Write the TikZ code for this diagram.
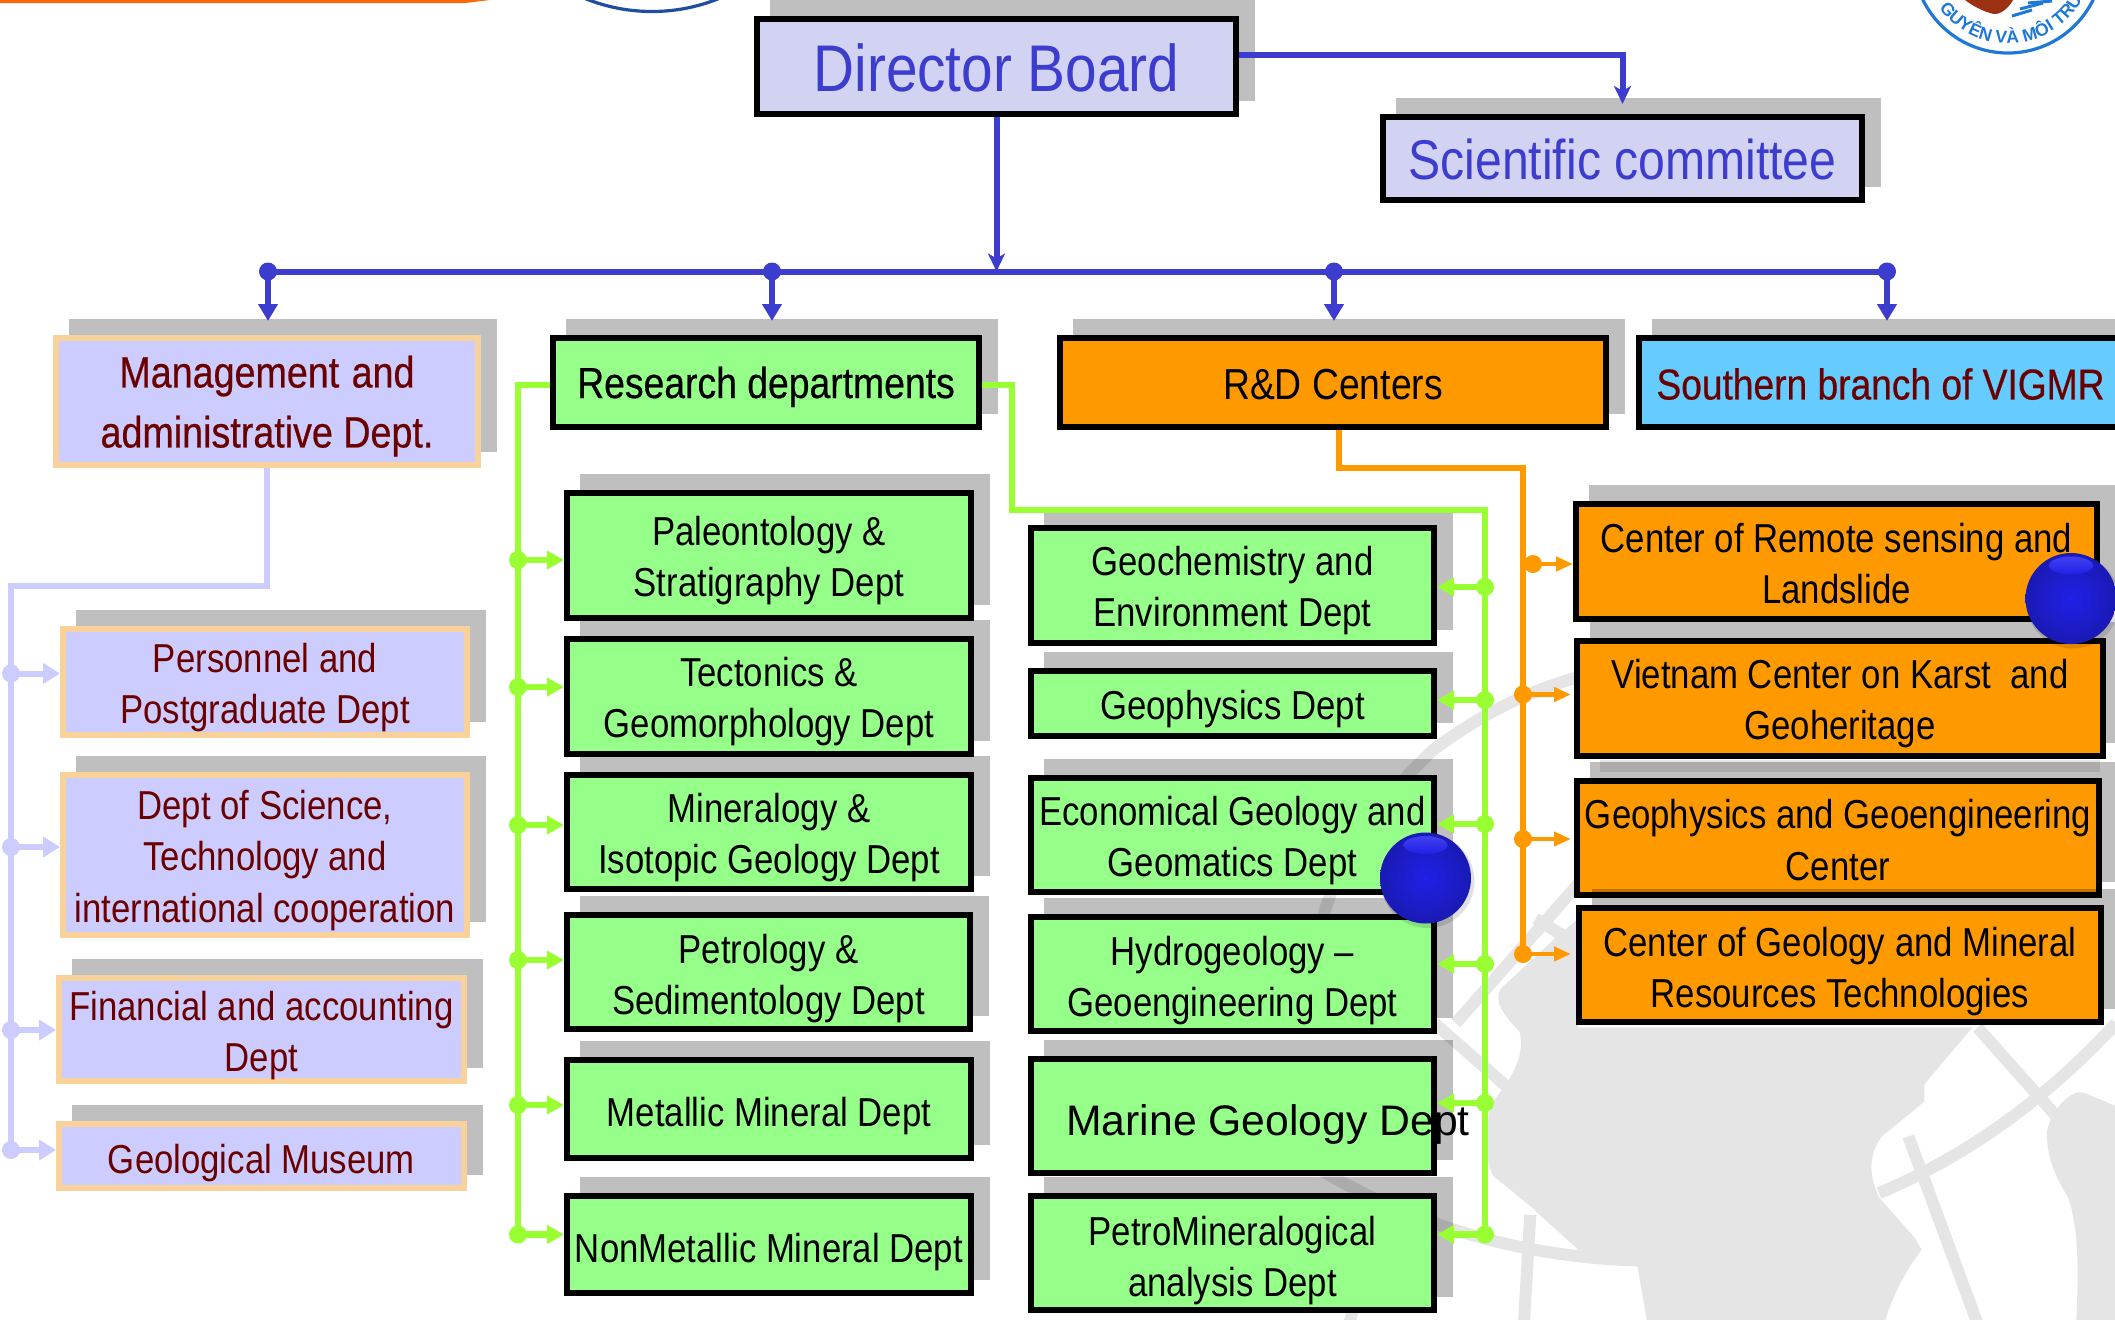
\documentclass[tikz,border=0pt]{standalone}
\usepackage{fontspec}
\usetikzlibrary{arrows.meta,decorations.text,calc}
\setmainfont{Liberation Sans}
\newfontfamily\cnd[FakeStretch=0.86]{Liberation Sans}
\newfontfamily\cndb[FakeStretch=0.86,FakeBold=0.5]{Liberation Sans}
\definecolor{lineB}{HTML}{3C3CCF}
\definecolor{lineG}{HTML}{99FF33}
\definecolor{lineO}{HTML}{FF9900}
\definecolor{lineL}{HTML}{CCCCFF}
\definecolor{boxG}{HTML}{96FF8A}
\definecolor{boxO}{HTML}{FF9900}
\definecolor{boxC}{HTML}{66CCFF}
\definecolor{boxD}{HTML}{D2D2F2}
\definecolor{edgeT}{HTML}{F8D29A}
\definecolor{txtR}{HTML}{6B0000}
\definecolor{mapG}{HTML}{E5E5E5}
\definecolor{logoB}{HTML}{1F78D8}
\definecolor{logoD}{HTML}{1F4E9E}
\definecolor{logoR}{HTML}{9C3213}
\definecolor{barO}{HTML}{FF6600}
\tikzset{
  x=0.5pt,y=-0.5pt,
  boxbase/.style={rectangle,inner sep=0pt,line width=3pt,align=center,draw=black},
  dirbox/.style={boxbase,fill=boxD,text=lineB},
  grbox/.style={boxbase,fill=boxG,text=black,font=\cnd\fontsize{20.2}{25.6}\selectfont},
  orbox/.style={boxbase,fill=boxO,text=black,font=\cnd\fontsize{20.2}{25.6}\selectfont},
  admbox/.style={boxbase,draw=edgeT,fill=lineL,text=txtR,font=\cnd\fontsize{20.2}{25.6}\selectfont},
  headg/.style={grbox,font=\cndb\fontsize{21.7}{25}\selectfont},
  heado/.style={orbox,font=\cnd\fontsize{21.7}{25}\selectfont},
  headc/.style={boxbase,fill=boxC,text=txtR,font=\cndb\fontsize{21.6}{25}\selectfont},
  headm/.style={admbox,font=\cndb\fontsize{21.9}{30}\selectfont},
  mainB/.style={draw=lineB,line width=3pt,-{Triangle[length=8.5pt,width=9.5pt]}},
  thinB/.style={draw=lineB,line width=3pt,-{Stealth[length=9pt,width=8.5pt,inset=2.5pt]}},
  busB/.style={draw=lineB,line width=3pt},
  wireG/.style={draw=lineG,line width=3.2pt},
  wireO/.style={draw=lineO,line width=3pt},
  wireL/.style={draw=lineL,line width=3pt},
  tipG/.style={wireG,-{Triangle[length=8.5pt,width=9pt]}},
  tipO/.style={draw=lineO,line width=2.4pt,-{Triangle[length=8.5pt,width=7pt]}},
  tipL/.style={wireL,-{Triangle[length=8.5pt,width=10pt]}},
  mapline/.style={draw=mapG,line width=6pt},
}
\def\tsh{20}
% name, x1, y1, x2, y2, style, text
\newcommand{\bx}[7]{%
  \fill[black,opacity=.25] (#2+16,#3-16) rectangle (#4+16,#5-16);
  \pgfmathsetmacro{\bw}{(#4-#2-6)*0.5}%
  \pgfmathsetmacro{\bh}{(#5-#3-6)*0.5}%
  \pgfmathsetmacro{\bcx}{(#2+#4)/2}%
  \pgfmathsetmacro{\bcy}{(#3+#5)/2}%
  \node[#6,minimum width=\bw pt,minimum height=\bh pt] (#1) at (\bcx,\bcy) {\rule{0pt}{\tsh pt}#7};
}
\newcommand{\dotat}[2]{\fill[#1] (#2) circle (4.5pt);}
\begin{document}
\begin{tikzpicture}
\useasboundingbox (0,0) rectangle (2115,1323);
\clip (0,0) rectangle (2115,1323);
\fill[white] (0,0) rectangle (2115,1323);
% top fragments
\fill[barO] (0,0) -- (490,0) -- (465,3) -- (0,3) -- cycle;
\draw[logoD,line width=1.6pt] (652,-166.5) circle (178);
% logo right
\draw[logoB,line width=1.6pt] (2008,-41.7) circle (94.7);
\fill[logoR] (1965,0) .. controls (1975,8) and (1990,14) .. (1995,14) .. controls (2002,14) and (2010,6) .. (2013,0) -- cycle;
\draw[logoB,line width=1.5pt] (2012,16) -- (2032,10);
\draw[logoB,line width=1.5pt] (2020,9) -- (2043,3);
\draw[logoB,line width=1.5pt] (2028,3) -- (2052,1);
\path[decorate,decoration={text along path,text align=center,
  text={|\color{logoB}\bfseries\fontsize{8.8}{11}\selectfont|GUYÊN VÀ MÔI TRƯ}}]
  (2008,-41.7) ++(175:85) arc[start angle=175,end angle=-3,radius=85];
% world map
\begin{scope}[shift={(1280,640)},xscale=0.5325,yscale=0.4355]
\clip (-700,-100) rectangle (1568,1560);
\fill[mapG] (450,900) .. controls (420,860) and (400,830) .. (415,800)
  -- (530,670) -- (560,640) -- (560,890) -- (1300,890)
  -- (1210,1020) -- (1210,1060) -- (1130,1140) .. controls (1100,1190) and (1110,1240) .. (1125,1280)
  -- (1190,1370) -- (1205,1400) .. controls (1180,1440) and (1150,1500) .. (1135,1570)
  -- (690,1570) -- (670,1430) -- (560,1400) -- (470,1300) -- (400,1230)
  .. controls (380,1180) and (385,1100) .. (400,1060) .. controls (440,1000) and (460,950) .. (450,900) -- cycle;
\fill[mapG] (1440,1130) .. controls (1450,1070) and (1490,1030) .. (1510,1040)
  -- (1570,1070) -- (1570,1570) -- (1495,1570) .. controls (1500,1450) and (1500,1350) .. (1480,1280)
  .. controls (1450,1220) and (1440,1180) .. (1440,1130) -- cycle;
\draw[mapline] (80,640) .. controls (110,500) and (200,350) .. (290,250) .. controls (380,170) and (460,120) .. (560,85);
\draw[mapline] (330,880) -- (560,560);
\draw[mapline] (290,880) -- (430,1030);
\draw[mapline] (-150,1000) .. controls (50,1250) and (350,1420) .. (690,1425);
\draw[mapline] (130,1570) -- (180,1350);
\draw[mapline] (458,1570) -- (470,1320);
\draw[mapline] (1180,1140) -- (1310,1570);
\draw[mapline] (1125,1270) .. controls (1300,1180) and (1450,1040) .. (1570,880);
\draw[mapline] (1310,890) -- (1470,1110);
\draw[mapline] (600,290) -- (1540,290);
\draw[mapline] (480,640) -- (560,700);
\draw[mapline] (700,1430) -- (710,1570);
\end{scope}
% boxes
\def\tsh{25}
\bx{dir}{754}{16}{1239}{117}{dirbox,font=\cnd\fontsize{33}{36}\selectfont}{Director Board}
\def\tsh{21.5}
\bx{sci}{1380}{114}{1865}{203}{dirbox,font=\cnd\fontsize{28}{30}\selectfont}{Scientific committee}
\def\tsh{20.5}
\bx{mgm}{53}{335}{481}{468}{headm}{Management\ \kern1pt and\\administrative Dept.}
\def\tsh{20}
\bx{res}{550}{335}{982}{430}{headg}{Research departments}
\def\tsh{17.2}
\bx{rnd}{1057}{335}{1609}{430}{heado}{R\&D Centers}
\bx{sth}{1636}{335}{2125}{430}{headc}{Southern branch of VIGMR}
\def\tsh{20}
\bx{pal}{564}{490}{974}{621}{grbox}{Paleontology \&\\Stratigraphy Dept}
\bx{tec}{564}{636}{974}{757}{grbox}{Tectonics \&\\Geomorphology Dept}
\bx{mnr}{564}{772}{974}{892}{grbox}{Mineralogy \&\\Isotopic Geology Dept}
\def\tsh{21}
\bx{pet}{564}{912}{973}{1032}{grbox}{Petrology \&\\Sedimentology Dept}
\def\tsh{22}
\bx{met}{564}{1057}{974}{1161}{grbox}{Metallic Mineral Dept}
\bx{non}{564}{1193}{974}{1296}{grbox}{NonMetallic Mineral Dept}
\def\tsh{20}
\bx{per}{60}{626}{470}{738}{admbox}{Personnel and\\Postgraduate Dept}
\bx{scn}{60}{772}{470}{938}{admbox}{Dept of Science,\\Technology and\\international cooperation}
\def\tsh{21}
\bx{fin}{56}{975}{467}{1084}{admbox}{Financial and accounting\\Dept}
\def\tsh{22}
\bx{mus}{56}{1121}{467}{1191}{admbox}{Geological Museum}
\def\tsh{20}
\bx{geo}{1028}{525}{1437}{646}{grbox}{Geochemistry and\\Environment Dept}
\bx{gph}{1028}{668}{1437}{739}{grbox}{Geophysics Dept}
\bx{eco}{1028}{775}{1437}{895}{grbox}{Economical Geology and\\Geomatics Dept}
\def\tsh{21}
\bx{hyd}{1028}{914}{1437}{1034}{grbox}{Hydrogeology –\\Geoengineering Dept}
\bx{mar}{1028}{1056}{1437}{1176}{grbox}{}
\def\tsh{22}
\bx{ptm}{1028}{1193}{1437}{1313}{grbox}{PetroMineralogical\\analysis Dept}
\def\tsh{16.6}
\bx{rem}{1573}{501}{2100}{622}{orbox}{Center of Remote sensing and\\Landslide}
\def\tsh{20}
\bx{kar}{1574}{638}{2106}{759}{orbox}{Vietnam Center on Karst\ \ and\\Geoheritage}
\def\tsh{16.6}
\bx{gen}{1574}{778}{2102}{898}{orbox}{Geophysics and Geoengineering\\Center}
\def\tsh{21}
\bx{cgm}{1576}{905}{2104}{1025}{orbox}{Center of Geology and Mineral\\Resources Technologies}
% junction coordinates
\coordinate (b1) at (268,271.5);
\coordinate (b2) at (772,271.5);
\coordinate (b3) at (1334,271.5);
\coordinate (b4) at (1887,271.5);
\coordinate (d1) at (1239,55);
\coordinate (lv0) at (11,586);
\coordinate (lv1) at (11,673.5);
\coordinate (lv2) at (11,847);
\coordinate (lv3) at (11,1030);
\coordinate (lv4) at (11,1150);
\coordinate (rl) at (550,385);
\coordinate (rr) at (982,385);
\coordinate (gl1) at (518,560);
\coordinate (gl2) at (518,687);
\coordinate (gl3) at (518,825);
\coordinate (gl4) at (518,960);
\coordinate (gl5) at (518,1105);
\coordinate (gl6) at (518,1234.5);
\coordinate (gr0) at (1012,510);
\coordinate (gr9) at (1485,510);
\coordinate (gr1) at (1485,587);
\coordinate (gr2) at (1485,700);
\coordinate (gr3) at (1485,824);
\coordinate (gr4) at (1485,964);
\coordinate (gr5) at (1485,1103);
\coordinate (gr6) at (1485,1234.5);
\coordinate (o0) at (1339,430);
\coordinate (o9) at (1523,468);
\coordinate (o1) at (1533,564);
\coordinate (o2) at (1523,694.5);
\coordinate (o3) at (1523,839);
\coordinate (o4) at (1523,954);
% blue connectors
\draw[thinB] (dir.south) -- (dir.south |- b1);
\draw[busB] (b1) -- (b4);
\draw[thinB,shorten >=5pt] (d1) -| (sci.north);
\draw[mainB,shorten >=7pt] (b1) -- (b1 |- mgm.north);
\draw[mainB,shorten >=7pt] (b2) -- (b2 |- res.north);
\draw[mainB,shorten >=7pt] (b3) -- (b3 |- rnd.north);
\draw[mainB,shorten >=7pt] (b4) -- (b4 |- sth.north);
\foreach \p in {b1,b2,b3,b4} {\dotat{lineB}{\p}}
% lavender connectors
\draw[wireL] (mgm.south) |- (lv0) -- (lv4);
\draw[tipL] (lv1) -- (lv1 -| per.west);
\draw[tipL] (lv2) -- (lv2 -| scn.west);
\draw[tipL] (lv3) -- (lv3 -| fin.west);
\draw[tipL] (lv4) -- (lv4 -| mus.west);
\foreach \p in {lv1,lv2,lv3,lv4} {\dotat{lineL}{\p}}
% green connectors left
\draw[wireG] (rl) -| (gl6);
\draw[tipG] (gl1) -- (gl1 -| pal.west);
\draw[tipG] (gl2) -- (gl2 -| tec.west);
\draw[tipG] (gl3) -- (gl3 -| mnr.west);
\draw[tipG] (gl4) -- (gl4 -| pet.west);
\draw[tipG] (gl5) -- (gl5 -| met.west);
\draw[tipG] (gl6) -- (gl6 -| non.west);
\foreach \p in {gl1,gl2,gl3,gl4,gl5,gl6} {\dotat{lineG}{\p}}
% green connectors right
\draw[wireG] (rr) -| (gr0) -- (gr9) -- (gr6);
\draw[tipG] (gr1) -- (gr1 -| geo.east);
\draw[tipG] (gr2) -- (gr2 -| gph.east);
\draw[tipG] (gr3) -- (gr3 -| eco.east);
\draw[tipG] (gr4) -- (gr4 -| hyd.east);
\draw[tipG] (gr5) -- (gr5 -| mar.east);
\draw[tipG] (gr6) -- (gr6 -| ptm.east);
\foreach \p in {gr1,gr2,gr3,gr4,gr5,gr6} {\dotat{lineG}{\p}}
% orange connectors
\draw[wireO] (o0) |- (o9) -- (o4);
\draw[tipO] (o1) -- (o1 -| rem.west);
\draw[tipO,shorten >=1.5pt] (o2) -- (o2 -| kar.west);
\draw[tipO,shorten >=1.5pt] (o3) -- (o3 -| gen.west);
\draw[tipO,shorten >=2.5pt] (o4) -- (o4 -| cgm.west);
\foreach \p in {o1,o2,o3,o4} {\dotat{lineO}{\p}}
% overflowing text
\node[inner sep=0pt,font=\fontsize{21.35}{25}\selectfont,text=black] (martxt) at (1268,1124) {Marine Geology Dept};
% balls
\foreach \bxx/\byy in {2071/598.5,1425.5/878}{
  \fill[black,opacity=.12] (\bxx+2,\byy+3) circle (23.5pt);
  \shade[inner color={rgb,255:red,32;green,32;blue,232},outer color={rgb,255:red,26;green,26;blue,180}] (\bxx,\byy) circle (22.75pt);
  \shade[top color={rgb,255:red,64;green,64;blue,240},bottom color={rgb,255:red,32;green,32;blue,232}] (\bxx,\byy-33) ellipse (11pt and 4.5pt);
}
\end{tikzpicture}
\end{document}
